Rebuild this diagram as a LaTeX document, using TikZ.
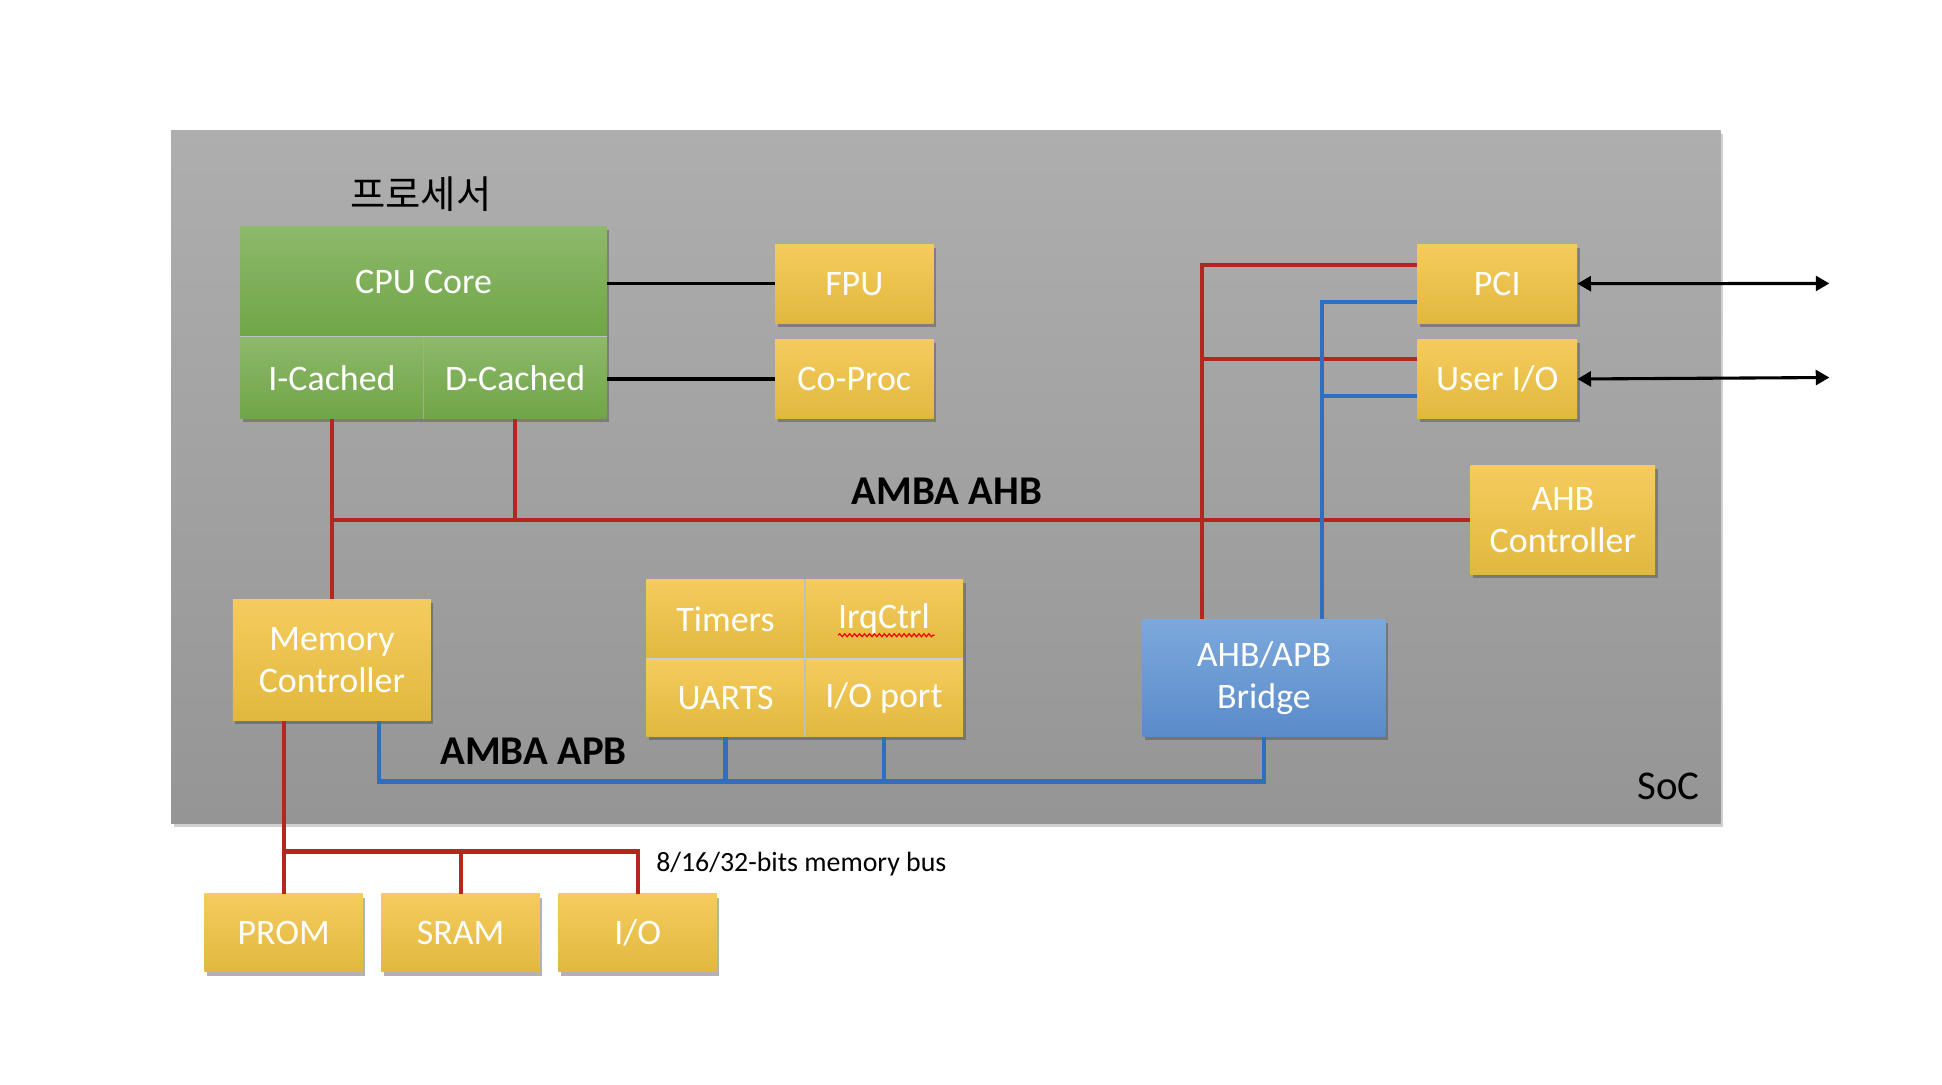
\documentclass[tikz,border=0pt]{standalone}
\usepackage{fontspec}
\setmainfont{Carlito}
\newfontfamily\krfont{Noto Sans CJK KR}
\usetikzlibrary{shadows,arrows.meta,decorations.pathmorphing}
\definecolor{yTop}{HTML}{F6CB5E}
\definecolor{yMid}{HTML}{F5C746}
\definecolor{yBot}{HTML}{E1B83E}
\definecolor{gTop}{HTML}{8DB96B}
\definecolor{gMid}{HTML}{7AAE52}
\definecolor{gBot}{HTML}{70A547}
\definecolor{bTop}{HTML}{7CA8DC}
\definecolor{bBot}{HTML}{5A8BCA}
\definecolor{sTop}{HTML}{AEAEAE}
\definecolor{sBot}{HTML}{959595}
\definecolor{busRed}{HTML}{B5261E}
\definecolor{busBlue}{HTML}{2F6FC0}
\tikzset{
  shd/.style={drop shadow={shadow xshift=2pt, shadow yshift=-3pt, opacity=.4, fill=black!75}},
  boxbase/.style={rectangle, inner sep=0pt, text=white, align=center,
    font=\fontsize{29}{34}\selectfont, anchor=north west, shd},
  ybox/.style={boxbase, top color=yTop, middle color=yMid, bottom color=yBot},
  gbox/.style={boxbase, top color=gTop, middle color=gMid, bottom color=gBot},
  bbox/.style={boxbase, top color=bTop, bottom color=bBot},
  redbus/.style={draw=busRed, line width=3.5pt},
  bluebus/.style={draw=busBlue, line width=3.5pt},
  blkline/.style={draw=black, line width=2.5pt},
  dblarrow/.style={draw=black, line width=2.5pt, {Triangle[length=11pt,width=12pt]}-{Triangle[length=11pt,width=12pt]}},
  buslabel/.style={font=\bfseries\fontsize{33}{36}\selectfont, text=black, inner sep=0pt}
}
\begin{document}
\begin{tikzpicture}[x=1pt, y=-1pt]
\useasboundingbox (0,0) rectangle (1569,876);
\fill[white] (0,0) rectangle (1569,876);
% SoC
\node[rectangle, inner sep=0pt, anchor=north west, minimum width=1252pt, minimum height=560pt,
  top color=sTop, bottom color=sBot, drop shadow={shadow xshift=2pt, shadow yshift=-3pt, opacity=.3, fill=black!60}] (soc) at (138,105) {};
\node[font=\fontsize{33}{36}\selectfont, inner sep=0pt] (soclabel) at (1348,635) {SoC};
\node[font=\krfont\fontsize{31}{34}\selectfont, inner sep=0pt] (proc) at (340,157) {프로세서};
% processor
\node[gbox, minimum width=296pt, minimum height=89pt] (cpu) at (194,183) {CPU Core};
\node[gbox, minimum width=148pt, minimum height=66pt] (icache) at (194,272) {I-Cached};
\node[gbox, minimum width=148pt, minimum height=66pt] (dcache) at (342,272) {D-Cached};
\draw[black!35, line width=1pt] (icache.north east) -- (icache.south east);
\draw[black!25, line width=1pt] (icache.north west) -- (dcache.north east);
% FPU, CoProc
\node[ybox, minimum width=128pt, minimum height=64pt] (fpu) at (626,197) {FPU};
\node[ybox, minimum width=128pt, minimum height=64pt] (coproc) at (626,274) {Co-Proc};
% PCI, User IO
\node[ybox, minimum width=129pt, minimum height=64pt] (pci) at (1145,197) {PCI};
\node[ybox, minimum width=129pt, minimum height=64pt] (uio) at (1145,274) {User I/O};
\node[ybox, minimum width=149pt, minimum height=88pt] (ahbc) at (1188,376) {AHB\\Controller};
% peripherals
\node[ybox, minimum width=128pt, minimum height=64pt] (timers) at (522,468) {Timers};
\node[ybox, minimum width=128pt, minimum height=64pt] (irq) at (650,468) {IrqCtrl};
\node[ybox, minimum width=128pt, minimum height=63pt] (uarts) at (522,532) {UARTS};
\node[ybox, minimum width=128pt, minimum height=63pt] (ioport) at (650,532) {I/O port};
\draw[black!25, line width=1pt] (timers.north east) -- (uarts.south east);
\draw[black!20, line width=1pt] (uarts.north west) -- (ioport.north east);
\draw[red, line width=1pt, decorate, decoration={snake, amplitude=1.2pt, segment length=4pt}]
  ([xshift=-37pt, yshift=-13pt]irq.center) -- ([xshift=41pt, yshift=-13pt]irq.center);
% bridge, memory controller
\node[bbox, minimum width=196pt, minimum height=95pt] (bridge) at (923,500) {AHB/APB\\Bridge};
\node[ybox, minimum width=160pt, minimum height=98pt] (memctrl) at (188,484) {Memory\\Controller};
% external memories
\node[ybox, minimum width=128pt, minimum height=63pt] (prom) at (165,722) {PROM};
\node[ybox, minimum width=128pt, minimum height=63pt] (sram) at (308,722) {SRAM};
\node[ybox, minimum width=128pt, minimum height=63pt] (io) at (451,722) {I/O};
% labels
\node[buslabel] (ahblabel) at (765,397) {AMBA AHB};
\node[buslabel] (apblabel) at (431,607) {AMBA APB};
\node[font=\fontsize{22.5}{24}\selectfont, inner sep=0pt, anchor=west] (memlabel) at (530,698) {8/16/32-bits memory bus};
% black connectors
\draw[blkline] (fpu.west -| cpu.east) -- (fpu.west);
\draw[blkline] (coproc.west -| dcache.east) -- (coproc.west);
\coordinate (pciout) at (1478,229);
\coordinate (uioout) at (1478,305);
\draw[dblarrow] (pci.east) -- (pciout);
\draw[dblarrow] (uio.east) -- (uioout);
% AHB
\draw[redbus] (icache.south) |- (ahbc.west);
\draw[redbus] (icache.south) -- (memctrl.north);
\draw[redbus] (dcache.south) -- (dcache.south |- ahbc.west);
\coordinate (rb) at ([xshift=-50pt]bridge.north);
\coordinate (bb) at ([xshift=47pt]bridge.north);
\coordinate (pciR) at ([yshift=15pt]pci.west);
\coordinate (pciB) at ([yshift=-15pt]pci.west);
\coordinate (uioR) at ([yshift=16pt]uio.west);
\coordinate (uioB) at ([yshift=-14pt]uio.west);
\draw[redbus] (rb) |- (pciR);
\draw[redbus] (rb |- uioR) -- (uioR);
\draw[bluebus] (bb) |- (pciB);
\draw[bluebus] (bb |- uioB) -- (uioB);
% APB
\coordinate (apbL) at ([xshift=38pt]memctrl.south);
\coordinate (apbbus) at ([yshift=-49pt]apbL);
\draw[bluebus] (apbL) -- (apbbus) -| (bridge.south);
\draw[bluebus] (uarts.south) -- (uarts.south |- apbbus);
\draw[bluebus] (ioport.south) -- (ioport.south |- apbbus);
% memory bus
\coordinate (mbL) at ([xshift=-39pt]memctrl.south);
\coordinate (mb) at ([yshift=34pt]prom.north);
\draw[redbus] (mbL) -- (prom.north);
\draw[redbus] (mb) -| (io.north);
\draw[redbus] (sram.north) -- (sram.north |- mb);
\end{tikzpicture}
\end{document}
